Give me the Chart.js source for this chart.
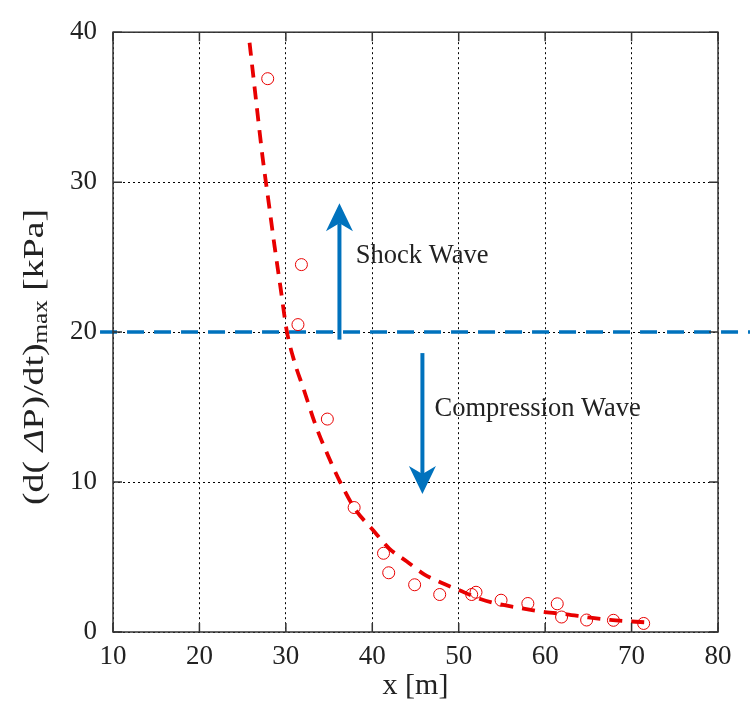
<!DOCTYPE html>
<html>
<head>
<meta charset="utf-8">
<script src="https://cdn.jsdelivr.net/npm/chart.js@4.4.0/dist/chart.umd.min.js"></script>
<style>
  body { margin: 0; background: #fff; }
  #wrap { width: 750px; height: 710px; }
</style>
</head>
<body>
<div id="wrap"><canvas id="rate" width="750" height="710"></canvas></div>
<script>
// measured peak pressure rate vs distance
var distX = [27.9, 31.8, 31.4, 34.8, 37.9, 41.3, 41.9, 44.9, 47.8, 51.5, 52.0, 54.9, 58.0, 61.4, 61.9, 64.8, 67.9, 71.4];
var rateY = [36.9, 24.5, 20.5, 14.2, 8.3, 5.25, 3.95, 3.15, 2.5, 2.5, 2.65, 2.12, 1.9, 1.88, 1.0, 0.8, 0.78, 0.57];

// fitted decay curve
var fitX = [25.8, 26.6, 27.3, 28.0, 28.7, 29.4, 30.1, 31.0, 32.0, 33.5, 35.0, 36.2, 38.0, 40.0, 42.0, 44.0, 46.0, 48.0, 50.0, 52.5, 55.0, 57.5, 60.0, 62.5, 65.0, 67.5, 70.0, 71.5];
var fitY = [39.3, 35.2, 31.7, 28.7, 25.7, 22.9, 20.1, 18.0, 16.3, 13.7, 11.6, 10.1, 8.2, 6.85, 5.55, 4.7, 3.85, 3.28, 2.8, 2.2, 1.82, 1.56, 1.33, 1.18, 0.97, 0.81, 0.7, 0.65];

// shock / compression threshold
var limitX = [8.5, 83.7];
var limitY = [20, 20];

var xTicks = [10, 20, 30, 40, 50, 60, 70, 80];
var yTicks = [0, 10, 20, 30, 40];

var RED = 'rgb(232,0,0)';
var BLUE = '#0072bd';
var INK = '#222';
var SERIF = '"Liberation Serif", "Times New Roman", serif';

function pts(xs, ys) {
  return xs.map(function (x, i) { return { x: x, y: ys[i] }; });
}

function arrow(ctx, x, yFrom, yTo) {
  var dir = yTo < yFrom ? -1 : 1;
  var len = 28, half = 13.5, notch = 8;
  ctx.strokeStyle = BLUE;
  ctx.lineWidth = 4;
  ctx.setLineDash([]);
  ctx.beginPath();
  ctx.moveTo(x, yFrom);
  ctx.lineTo(x, yTo - dir * (len - notch));
  ctx.stroke();
  ctx.fillStyle = BLUE;
  ctx.beginPath();
  ctx.moveTo(x, yTo);
  ctx.lineTo(x - half, yTo - dir * len);
  ctx.lineTo(x, yTo - dir * (len - notch));
  ctx.lineTo(x + half, yTo - dir * len);
  ctx.closePath();
  ctx.fill();
}

var decor = {
  id: 'decor',
  afterDatasetsDraw: function (chart) {
    var ctx = chart.ctx, a = chart.chartArea;
    var xs = chart.scales.x, ys = chart.scales.y;
    ctx.save();

    // box and inward ticks
    ctx.setLineDash([]);
    ctx.strokeStyle = '#333';
    ctx.lineWidth = 1.5;
    ctx.strokeRect(a.left, a.top, a.right - a.left, a.bottom - a.top);
    ctx.beginPath();
    xTicks.forEach(function (v) {
      var px = xs.getPixelForValue(v);
      ctx.moveTo(px, a.bottom); ctx.lineTo(px, a.bottom - 9);
      ctx.moveTo(px, a.top); ctx.lineTo(px, a.top + 9);
    });
    yTicks.forEach(function (v) {
      var py = ys.getPixelForValue(v);
      ctx.moveTo(a.left, py); ctx.lineTo(a.left + 9, py);
      ctx.moveTo(a.right, py); ctx.lineTo(a.right - 9, py);
    });
    ctx.stroke();

    // arrows and their labels
    arrow(ctx, xs.getPixelForValue(36.2), ys.getPixelForValue(19.5), ys.getPixelForValue(28.6));
    arrow(ctx, xs.getPixelForValue(45.8), ys.getPixelForValue(18.6), ys.getPixelForValue(9.2));
    ctx.fillStyle = INK;
    ctx.font = '26.5px ' + SERIF;
    ctx.textBaseline = 'alphabetic';
    ctx.textAlign = 'left';
    ctx.fillText('Shock Wave', xs.getPixelForValue(38.1), ys.getPixelForValue(24.6));
    ctx.fillText('Compression Wave', xs.getPixelForValue(47.2), ys.getPixelForValue(14.4));

    // x title
    ctx.font = '30px ' + SERIF;
    ctx.textAlign = 'center';
    ctx.fillText('x [m]', (a.left + a.right) / 2, 694);

    // y title with subscript, stretched along its length
    var parts = [
      { t: '(d( ', f: '30px ' + SERIF, dy: 0 },
      { t: '\u0394', f: 'italic 30px ' + SERIF, dy: 0 },
      { t: 'P)/dt)', f: '30px ' + SERIF, dy: 0 },
      { t: 'max', f: '20px ' + SERIF, dy: 4 },
      { t: ' [kPa]', f: '30px ' + SERIF, dy: 0 }
    ];
    var total = 0;
    parts.forEach(function (p) { ctx.font = p.f; p.w = ctx.measureText(p.t).width; total += p.w; });
    var stretch = 296 / total;
    ctx.translate(43, 357);
    ctx.rotate(-Math.PI / 2);
    ctx.scale(stretch, 1);
    ctx.textAlign = 'left';
    var cx = -total / 2;
    parts.forEach(function (p) {
      ctx.font = p.f;
      ctx.fillText(p.t, cx, p.dy);
      cx += p.w;
    });
    ctx.restore();
  }
};

new Chart(document.getElementById('rate'), {
  type: 'scatter',
  plugins: [decor],
  data: {
    datasets: [
      {
        label: 'measured',
        data: pts(distX, rateY),
        showLine: false,
        pointStyle: 'circle',
        pointRadius: 6,
        pointBorderWidth: 1,
        pointBorderColor: RED,
        pointBackgroundColor: 'rgba(0,0,0,0)',
        order: 1
      },
      {
        label: 'fit',
        data: pts(fitX, fitY),
        showLine: true,
        pointRadius: 0,
        borderColor: RED,
        borderWidth: 3.8,
        borderDash: [13, 9],
        cubicInterpolationMode: 'monotone',
        order: 2
      },
      {
        label: 'threshold',
        data: pts(limitX, limitY),
        showLine: true,
        pointRadius: 0,
        borderColor: BLUE,
        borderWidth: 3.5,
        borderDash: [17, 10],
        clip: false,
        order: 3
      }
    ]
  },
  options: {
    responsive: false,
    animation: false,
    layout: { padding: { top: 28, right: 32, left: 0, bottom: 0 } },
    plugins: {
      legend: { display: false },
      tooltip: { enabled: false }
    },
    scales: {
      x: {
        type: 'linear',
        min: 10,
        max: 80,
        afterBuildTicks: function (s) { s.ticks = xTicks.map(function (v) { return { value: v }; }); },
        afterFit: function (s) { s.height = 78; },
        grid: { color: '#000', lineWidth: 1, drawTicks: false },
        border: { display: false, dash: [2, 3] },
        ticks: { color: INK, padding: 9, font: { family: SERIF, size: 27 }, maxRotation: 0 }
      },
      y: {
        type: 'linear',
        min: 0,
        max: 40,
        afterBuildTicks: function (s) { s.ticks = yTicks.map(function (v) { return { value: v }; }); },
        afterFit: function (s) { s.width = 113; },
        grid: { color: '#000', lineWidth: 1, drawTicks: false },
        border: { display: false, dash: [2, 3] },
        ticks: { color: INK, padding: 16, font: { family: SERIF, size: 27 } }
      }
    }
  }
});
</script>
</body>
</html>
